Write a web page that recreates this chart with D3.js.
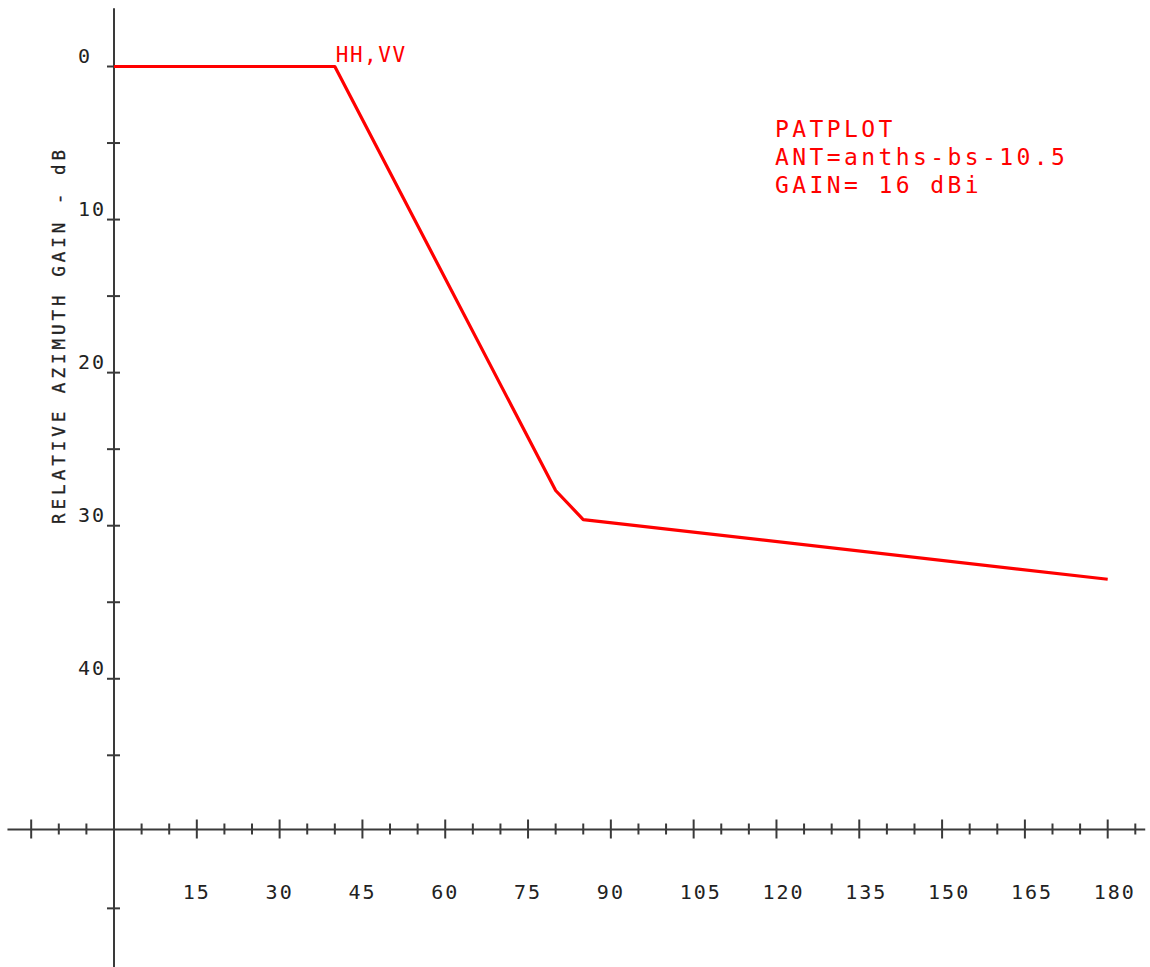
<!DOCTYPE html>
<html><head><meta charset="utf-8">
<script src="https://cdn.jsdelivr.net/npm/d3@7"></script>
<style>
html,body{margin:0;padding:0;background:#fff;}
svg{display:block;}
text{font-family:"DejaVu Sans Mono",monospace;}
</style></head>
<body><svg id="chart" width="1150" height="967"></svg>
<script>
// Data
const angles = [0, 40, 80, 85, 180];          // azimuth, degrees
const gains  = [0, 0, 27.7, 29.6, 33.5];      // relative gain, dB below peak
const xTickValues = d3.range(-15, 186, 5);
const xLabelValues = [15, 30, 45, 60, 75, 90, 105, 120, 135, 150, 165, 180];
const yTickValues = [0, 5, 10, 15, 20, 25, 30, 35, 40, 45, 55];
const yLabelValues = [0, 10, 20, 30, 40];
const infoLines = ["PATPLOT", "ANT=anths-bs-10.5", "GAIN= 16 dBi"];
const seriesLabel = "HH,VV";
const yTitle = "RELATIVE AZIMUTH GAIN - dB";

const svg = d3.select("#chart");
const x = d3.scaleLinear().domain([0, 180]).range([114, 1107.7]);
const y = d3.scaleLinear().domain([0, 30]).range([66.5, 525.7]);
const axisColor = "#3a3a3a";
const red = "#ff0000";
const xAxisY = 829.5;

// axis lines
svg.append("line").attr("x1", x(-19.3)).attr("x2", x(186.8)).attr("y1", xAxisY).attr("y2", xAxisY)
  .attr("stroke", axisColor).attr("stroke-width", 2);
svg.append("line").attr("x1", x(0)).attr("x2", x(0)).attr("y1", y(-3.8)).attr("y2", 967)
  .attr("stroke", axisColor).attr("stroke-width", 2);

// x ticks
svg.append("g").selectAll("line").data(xTickValues.filter(d => d !== 0)).join("line")
  .attr("x1", d => x(d)).attr("x2", d => x(d))
  .attr("y1", d => xAxisY - (d % 15 === 0 ? 10 : 6))
  .attr("y2", d => xAxisY + (d % 15 === 0 ? 9 : 5))
  .attr("stroke", axisColor).attr("stroke-width", 2);

// y ticks
svg.append("g").selectAll("line").data(yTickValues).join("line")
  .attr("x1", x(0) - 7).attr("x2", x(0) + 6)
  .attr("y1", d => y(d)).attr("y2", d => y(d))
  .attr("stroke", axisColor).attr("stroke-width", 2);

// x labels
svg.append("g").selectAll("text").data(xLabelValues).join("text")
  .attr("x", d => x(d) - 14).attr("y", 899)
  .attr("font-size", 20).attr("letter-spacing", "2px").attr("fill", "#222")
  .text(d => d);

// y labels
svg.append("g").selectAll("text").data(yLabelValues).join("text")
  .attr("x", 78).attr("y", d => y(d) - 4)
  .attr("font-size", 20).attr("letter-spacing", "2px").attr("fill", "#222")
  .text(d => d);

// y title
svg.append("text")
  .attr("transform", "translate(65,335) rotate(-90)")
  .attr("text-anchor", "middle")
  .attr("font-size", 17.5).attr("letter-spacing", "4px").attr("fill", "#222")
  .attr("stroke", "#222").attr("stroke-width", 0.3)
  .text(yTitle);

// series line
const pts = angles.map((a, i) => [a, gains[i]]);
svg.append("path").datum(pts)
  .attr("d", d3.line().x(d => x(d[0])).y(d => y(d[1])))
  .attr("fill", "none").attr("stroke", red).attr("stroke-width", 3.2)
  .attr("stroke-linejoin", "round");

// series label
svg.append("text")
  .attr("x", x(angles[1]) + 1).attr("y", 62)
  .attr("font-size", 21).attr("letter-spacing", "1.5px").attr("fill", red)
  .text(seriesLabel);

// info block
svg.append("g").selectAll("text").data(infoLines).join("text")
  .attr("x", 775).attr("y", (d, i) => 137 + i * 28)
  .attr("font-size", 23).attr("letter-spacing", "3.4px").attr("fill", red)
  .text(d => d);
</script>
</body></html>
